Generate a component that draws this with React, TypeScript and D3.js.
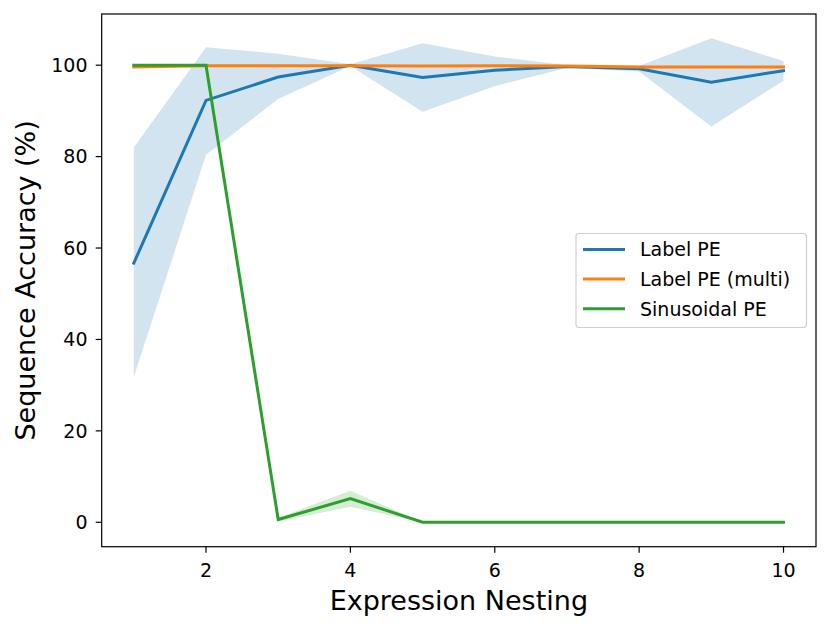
import React, { useEffect, useRef } from 'react';
import * as d3 from 'd3';

const nesting = [1, 2, 3, 4, 5, 6, 7, 8, 9, 10];

const labelMean = [56.7, 92.3, 97.4, 100, 97.3, 98.9, 99.7, 99.2, 96.3, 98.8];
const labelLow = [31.8, 80.4, 92.6, 99.8, 89.8, 95.4, 99.4, 98.6, 86.6, 96.6];
const labelHigh = [82.0, 103.9, 102.5, 100.2, 104.8, 101.9, 100.0, 99.8, 105.9, 100.9];

const multiMean = [99.6, 99.9, 99.9, 99.9, 99.8, 99.9, 99.8, 99.6, 99.6, 99.6];
const multiLow = [99.4, 99.8, 99.8, 99.8, 99.6, 99.8, 99.7, 99.3, 99.4, 99.4];
const multiHigh = [99.8, 100.0, 100.0, 100.0, 100.0, 100.0, 99.9, 99.9, 99.8, 99.8];

const sinMean = [100, 100, 0.6, 5.2, 0, 0, 0, 0, 0, 0];
const sinLow = [100, 100, 0.2, 3.4, 0, 0, 0, 0, 0, 0];
const sinHigh = [100, 100, 1.0, 6.9, 0, 0, 0, 0, 0, 0];

const xTicks = [2, 4, 6, 8, 10];
const yTicks = [0, 20, 40, 60, 80, 100];

const seriesNames = ['Label PE', 'Label PE (multi)', 'Sinusoidal PE'];
const seriesColors = ['#1f77b4', '#ff7f0e', '#2ca02c'];

const App: React.FC = () => {
  const svgRef = useRef<SVGSVGElement>(null);
  const width = 831;
  const height = 630;

  useEffect(() => {
    if (!svgRef.current) return;
    const svg = d3.select(svgRef.current);
    svg.selectAll('*').remove();

    const left = 101.7, right = 816, top = 14, bottom = 546.7;
    const x = d3.scaleLinear().domain([0.555, 10.45]).range([left, right]);
    const y = d3.scaleLinear().domain([-5.34, 111.2]).range([bottom, top]);

    const font = 'DejaVu Sans, sans-serif';
    const series = [
      { mean: labelMean, low: labelLow, high: labelHigh },
      { mean: multiMean, low: multiLow, high: multiHigh },
      { mean: sinMean, low: sinLow, high: sinHigh },
    ];

    const clip = svg.append('defs').append('clipPath').attr('id', 'plot-clip');
    clip.append('rect').attr('x', left).attr('y', top).attr('width', right - left).attr('height', bottom - top);

    const plot = svg.append('g').attr('clip-path', 'url(#plot-clip)');

    series.forEach((s, i) => {
      const area = d3.area<number>()
        .x(d => x(d))
        .y0((_, j) => y(s.low[j]))
        .y1((_, j) => y(s.high[j]));
      plot.append('path')
        .datum(nesting)
        .attr('d', area)
        .attr('fill', seriesColors[i])
        .attr('fill-opacity', 0.2);
    });

    series.forEach((s, i) => {
      const line = d3.line<number>()
        .x(d => x(d))
        .y((_, j) => y(s.mean[j]));
      plot.append('path')
        .datum(nesting)
        .attr('d', line)
        .attr('fill', 'none')
        .attr('stroke', seriesColors[i])
        .attr('stroke-width', 3)
        .attr('stroke-linecap', 'square');
    });

    // frame
    svg.append('rect')
      .attr('x', left).attr('y', top)
      .attr('width', right - left).attr('height', bottom - top)
      .attr('fill', 'none').attr('stroke', '#000').attr('stroke-width', 1.2);

    // x ticks
    xTicks.forEach(t => {
      svg.append('line')
        .attr('x1', x(t)).attr('x2', x(t))
        .attr('y1', bottom).attr('y2', bottom + 6)
        .attr('stroke', '#000').attr('stroke-width', 1.2);
      svg.append('text')
        .attr('x', x(t)).attr('y', 577)
        .attr('text-anchor', 'middle')
        .attr('font-family', font).attr('font-size', 19)
        .text(t);
    });

    // y ticks
    yTicks.forEach(t => {
      svg.append('line')
        .attr('x1', left - 6).attr('x2', left)
        .attr('y1', y(t)).attr('y2', y(t))
        .attr('stroke', '#000').attr('stroke-width', 1.2);
      svg.append('text')
        .attr('x', 87.5).attr('y', y(t))
        .attr('dy', '0.36em')
        .attr('text-anchor', 'end')
        .attr('font-family', font).attr('font-size', 19)
        .text(t);
    });

    svg.append('text')
      .attr('x', (left + right) / 2).attr('y', 610)
      .attr('text-anchor', 'middle')
      .attr('font-family', font).attr('font-size', 27)
      .text('Expression Nesting');

    svg.append('text')
      .attr('transform', `translate(35,${(top + bottom) / 2}) rotate(-90)`)
      .attr('text-anchor', 'middle')
      .attr('font-family', font).attr('font-size', 27)
      .text('Sequence Accuracy (%)');

    // legend
    const lg = svg.append('g');
    lg.append('rect')
      .attr('x', 576).attr('y', 233.5)
      .attr('width', 230.5).attr('height', 94)
      .attr('rx', 3)
      .attr('fill', '#fff').attr('fill-opacity', 0.8)
      .attr('stroke', '#d0d0d0').attr('stroke-width', 1.2);
    seriesNames.forEach((name, i) => {
      const cy = 249.5 + i * 29.6;
      lg.append('line')
        .attr('x1', 583).attr('x2', 625)
        .attr('y1', cy).attr('y2', cy)
        .attr('stroke', seriesColors[i]).attr('stroke-width', 3);
      lg.append('text')
        .attr('x', 640).attr('y', cy)
        .attr('dy', '0.36em')
        .attr('font-family', font).attr('font-size', 19)
        .text(name);
    });
  }, []);

  return (
    <div style={{ position: 'absolute', left: 0, top: 0 }}>
      <svg ref={svgRef} width={width} height={height} style={{ display: 'block', background: '#fff' }}></svg>
    </div>
  );
};

export default App;
